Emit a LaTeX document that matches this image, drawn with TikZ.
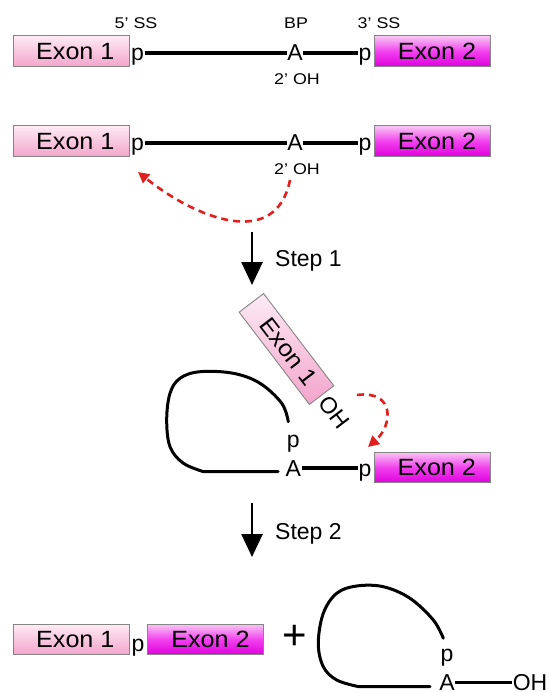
\documentclass[tikz,border=0pt]{standalone}
\usepackage{fontspec}
\setmainfont{Liberation Sans}
\usetikzlibrary{arrows.meta,calc}
\definecolor{eAtop}{HTML}{FDEAF4}
\definecolor{eAbot}{HTML}{F3A4CB}
\definecolor{eBtop}{HTML}{F8C6F4}
\definecolor{eBmid}{HTML}{F240EE}
\definecolor{eBbot}{HTML}{DE00DE}
\definecolor{boxgray}{HTML}{858585}
\definecolor{arrred}{HTML}{E0201E}
\newcommand{\sx}[2]{\scalebox{#1}[1]{#2}}
\tikzset{
  big/.style={font=\fontsize{23}{23}\selectfont, inner sep=0.5pt},
  small/.style={font=\fontsize{15.5}{15.5}\selectfont, inner sep=0pt},
  exonbase/.style={draw=boxgray, line width=0.9pt, minimum width=116pt, minimum height=30.7pt, inner sep=0pt, font=\fontsize{23.5}{23.5}\selectfont},
  exonA/.style={exonbase, top color=eAtop, bottom color=eAbot},
  exonB/.style={exonbase, top color=eBtop, bottom color=eBbot, middle color=eBmid},
  strand/.style={line width=3.2pt},
  loopline/.style={line width=3pt, line cap=round},
  steparrow/.style={line width=2.7pt, -{Triangle[length=23pt,width=21pt]}},
  redarrow/.style={arrred, line width=2.6pt, dash pattern=on 7pt off 5pt, -{Triangle[length=11pt,width=11pt]}}
}
\begin{document}
\begin{tikzpicture}[x=1pt,y=-1pt]
\useasboundingbox[fill=white] (0,0) rectangle (548,692);

% ---------- Row 1 ----------
\node[exonA] (E1a) at (71.3,51.3) {\hspace*{8pt}\sx{1.07}{Exon 1}};
\node[exonB] (E2a) at (432.7,51.3) {\hspace*{8.6pt}\sx{1.07}{Exon 2}};
\node[big, anchor=base] (p1a) at (137.5,61) {p};
\node[big, anchor=base] (A1) at (295,61) {A};
\node[big, anchor=base] (p2a) at (365,61) {p};
\draw[strand] (p1a.east |- A1) -- (A1.west);
\draw[strand] (A1.east) -- (p2a.west |- A1);
\node[small] (ss5) at (136,23.3) {\sx{1.15}{5’ SS}};
\node[small] (bp) at (296,23.3) {\sx{1.15}{BP}};
\node[small] (ss3) at (379,23.3) {\sx{1.15}{3’ SS}};
\node[small] (oh1) at (297,79.3) {\sx{1.15}{2’ OH}};

% ---------- Row 2 ----------
\node[exonA] (E1b) at (71.3,141.3) {\hspace*{8pt}\sx{1.07}{Exon 1}};
\node[exonB] (E2b) at (432.7,141.3) {\hspace*{8.6pt}\sx{1.07}{Exon 2}};
\node[big, anchor=base] (p1b) at (137.5,151) {p};
\node[big, anchor=base] (A2) at (295,151) {A};
\node[big, anchor=base] (p2b) at (365,151) {p};
\draw[strand] (p1b.east |- A2) -- (A2.west);
\draw[strand] (A2.east) -- (p2b.west |- A2);
\node[small] (oh2) at (297,169.5) {\sx{1.15}{2’ OH}};
\coordinate (r1s) at (290,180);
\coordinate (r1e) at (138,172);
\draw[redarrow] (r1s) .. controls (276,250) and (197,219) .. (r1e);

% ---------- Step 1 ----------
\coordinate (s1a) at (252,232);
\coordinate (s1b) at (252,285);
\draw[steparrow] (s1a) -- (s1b);
\node[big, anchor=base west, inner sep=0pt] (st1) at (275,266.5) {Step 1};

% ---------- Middle (after step 1) ----------
\node[exonA, rotate=-52.7] (E1r) at (286.5,349) {\hspace*{6pt}\sx{1.07}{Exon 1}};
\node[big, rotate=-52.7] (OHr) at (334,412) {OH};
\node[big, anchor=base] (pm) at (293.3,447) {p};
\node[big, anchor=base] (Am) at (293.3,476) {A};
\node[big, anchor=base] (p2m) at (365,476) {p};
\node[exonB] (E2m) at (432.5,467.5) {\hspace*{8.6pt}\sx{1.07}{Exon 2}};
\draw[strand] (Am.east) -- (p2m.west |- Am);
\draw[loopline] plot[smooth, tension=0.6] coordinates {(288.3,421.7) (281.7,403.3) (260,383.3) (233.3,373.3) (200,371.7) (180,378.3) (170,393.3) (166.7,420) (170,446.7) (183,463) (203,471.5)} -- (278,471.5);
\coordinate (r2s) at (357,395);
\coordinate (r2e) at (368,447);
\draw[redarrow] (r2s) .. controls (395,390) and (393,425) .. (r2e);

% ---------- Step 2 ----------
\coordinate (s2a) at (252,503);
\coordinate (s2b) at (252,557);
\draw[steparrow] (s2a) -- (s2b);
\node[big, anchor=base west, inner sep=0pt] (st2) at (275,539.3) {Step 2};

% ---------- Bottom ----------
\node[exonA] (E1c) at (71.3,639.5) {\hspace*{8pt}\sx{1.07}{Exon 1}};
\node[big, anchor=base] (pc) at (138,651) {p};
\node[exonB] (E2c) at (205,639.5) {\hspace*{11pt}\sx{1.07}{Exon 2}};
\node[font=\fontsize{42}{42}\selectfont, inner sep=0pt] (plus) at (295,637) {+};
\node[big, anchor=base] (pl) at (447,661) {p};
\node[big, anchor=base] (Al) at (447,690.5) {A};
\node[big, anchor=base] (OHl) at (530,690.5) {OH};
\draw[strand] (Al.east) -- (OHl.west |- Al);
\draw[loopline] plot[smooth, tension=0.6] coordinates {(443.3,638.3) (433.3,620) (410,598.3) (383.3,586.7) (356.7,586) (336.7,593.3) (323.3,613.3) (318.3,643.3) (323.3,666.7) (336.7,680) (358,686.5)} -- (430,686.5);
\end{tikzpicture}
\end{document}
